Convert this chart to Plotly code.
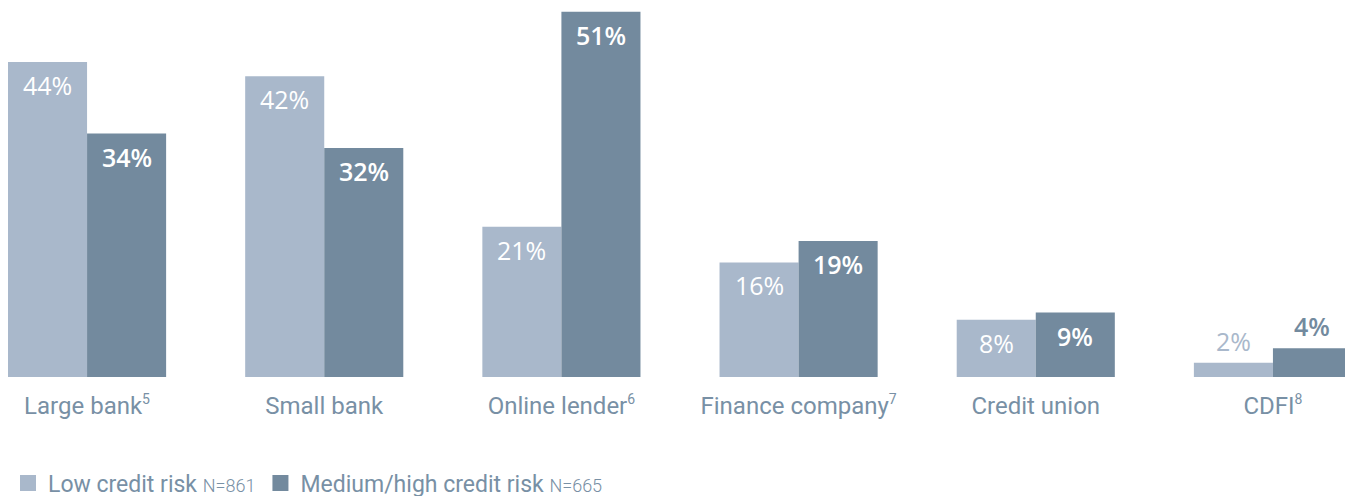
import plotly.graph_objects as go

SUP = "<sup><span style='font-size:14px'>{}</span></sup>"
categories = ["Large bank" + SUP.format(5), "Small bank", "Online lender" + SUP.format(6),
              "Finance company" + SUP.format(7), "Credit union", "CDFI" + SUP.format(8)]
low_risk = [44, 42, 21, 16, 8, 2]
med_high_risk = [34, 32, 51, 19, 9, 4]
series_names = ["Low credit risk", "Medium/high credit risk"]
series_n = ["N=861", "N=665"]

LIGHT = "#a9b8cb"
DARK = "#738a9e"
TEXT = "#7890a5"
FONT = "Roboto"
LABEL_FONT = "Open Sans"

series = [(low_risk, series_names[0], series_n[0], LIGHT, 400, -1/6),
          (med_high_risk, series_names[1], series_n[1], DARK, 600, 1/6)]

fig = go.Figure()
for vals, name, n, col, w, off in series:
    fig.add_trace(go.Bar(
        x=categories, y=vals, name=name, showlegend=False,
        marker=dict(color=col, line=dict(width=0)),
    ))
    # legend entry with larger square symbol
    fig.add_trace(go.Scatter(
        x=[None], y=[None], mode="markers",
        name=f"{name} <span style='font-size:18px;font-weight:300'>{n}</span>",
        marker=dict(symbol="square", size=20, color=col),
    ))
    for i, v in enumerate(vals):
        inside = v >= 5
        fig.add_annotation(
            x=i + off, y=v, xref="x", yref="y",
            text=f"{v}%", showarrow=False,
            yanchor="top" if inside else "bottom",
            yshift=-4 if inside else 3,
            font=dict(size=25, family=LABEL_FONT, weight=w,
                      color="white" if inside else col),
        )

fig.update_layout(
    width=1345, height=488,
    margin=dict(l=0, r=1, t=0, b=119, autoexpand=False),
    barmode="group", bargap=1/3, bargroupgap=0,
    plot_bgcolor="white", paper_bgcolor="white",
    font=dict(family=FONT, color=TEXT),
    xaxis=dict(range=[-1/3, 5 + 1/3], showgrid=False, showline=False, ticks="",
               automargin=False,
               tickfont=dict(size=24, color=TEXT, family=FONT), ticklabelstandoff=12),
    yaxis=dict(range=[0, 369 / 7.16], visible=False, automargin=False),
    showlegend=True,
    legend=dict(orientation="h", xref="container", yref="container",
                x=0, xanchor="left", y=13 / 488, yanchor="middle",
                font=dict(size=23, color=TEXT, family=FONT),
                itemsizing="trace"),
)

fig.write_html("out.html")
